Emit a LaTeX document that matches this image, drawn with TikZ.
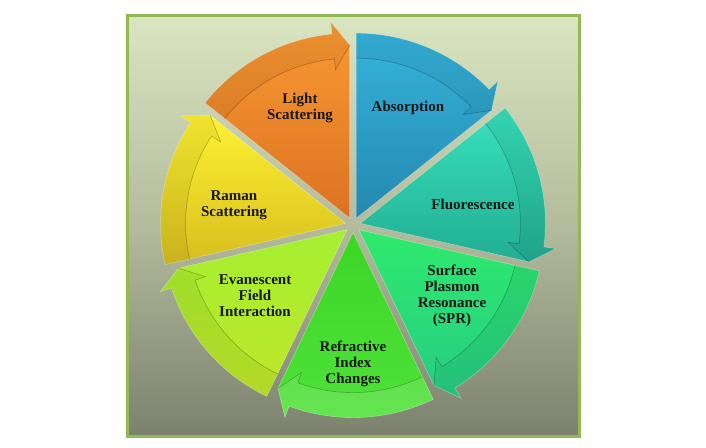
\documentclass[tikz,border=0pt]{standalone}
\usepackage{fontspec}
\setmainfont{Liberation Serif}

\definecolor{framegreen}{HTML}{93B957}
\definecolor{bgtop}{HTML}{DAE5C1}
\definecolor{bgmid}{HTML}{B3BB9C}
\definecolor{bgbot}{HTML}{7C816E}
\definecolor{orangetop}{HTML}{F99A33}
\definecolor{orangebot}{HTML}{DC7222}
\definecolor{bluetop}{HTML}{36B4DC}
\definecolor{bluebot}{HTML}{2488AE}
\definecolor{tealtop}{HTML}{38E2BC}
\definecolor{tealbot}{HTML}{22AD92}
\definecolor{sprtop}{HTML}{2EEA6C}
\definecolor{sprbot}{HTML}{26CC84}
\definecolor{refrtop}{HTML}{3CD626}
\definecolor{refrbot}{HTML}{50E23A}
\definecolor{evantop}{HTML}{A4F030}
\definecolor{evanbot}{HTML}{C0E62A}
\definecolor{ramantop}{HTML}{FFF232}
\definecolor{ramanbot}{HTML}{D6BE1E}

\begin{document}
\begin{tikzpicture}[x=1pt,y=1pt,
  seglabel/.style={draw=none,align=center,font=\fontsize{15}{16}\selectfont\bfseries,text=black!90},
  wedge/.style={draw=white,draw opacity=0.35,line width=0.6pt},
  band/.style={fill=black,fill opacity=0.06},
  lightband/.style={fill=white,fill opacity=0.12},
  bandline/.style={draw=black,draw opacity=0.25,line width=0.6pt}]
  \useasboundingbox (-353,-222) rectangle (353,225);

  %frame
  \shade[top color=bgtop,bottom color=bgbot,middle color=bgmid] (-225,209) rectangle (226,-211);
  \draw[framegreen,line width=3] (-225,209) rectangle (226,-211);

  %light scattering
  \begin{scope}[shift={(115.71:7.6)}]
    \shadedraw[wedge,top color=orangetop,bottom color=orangebot] (0,0) -- (141.43:185) arc[start angle=141.43,end angle=95.5,radius=185] -- (95.5:197) -- (90:173) -- cycle;
    \fill[band] (141.43:185) arc[start angle=141.43,end angle=95.5,radius=185] -- (95.5:197) -- (90:173) -- (95.5:149) -- (95.5:160) arc[start angle=95.5,end angle=141.43,radius=160] -- cycle;
    \draw[bandline] (141.43:160) arc[start angle=141.43,end angle=95.5,radius=160] -- (95.5:149) -- (90:173);
  \end{scope}

  %absorption
  \begin{scope}[shift={(64.29:7.6)}]
    \shadedraw[wedge,top color=bluetop,bottom color=bluebot] (0,0) -- (90:185) arc[start angle=90,end angle=44.07,radius=185] -- (44.07:197) -- (38.57:173) -- cycle;
    \fill[band] (90:185) arc[start angle=90,end angle=44.07,radius=185] -- (44.07:197) -- (38.57:173) -- (44.07:149) -- (44.07:160) arc[start angle=44.07,end angle=90,radius=160] -- cycle;
    \draw[bandline] (90:160) arc[start angle=90,end angle=44.07,radius=160] -- (44.07:149) -- (38.57:173);
  \end{scope}

  %fluorescence
  \begin{scope}[shift={(12.86:7.6)}]
    \shadedraw[wedge,top color=tealtop,bottom color=tealbot] (0,0) -- (38.57:185) arc[start angle=38.57,end angle=-7.36,radius=185] -- (-7.36:197) -- (-12.86:173) -- cycle;
    \fill[band] (38.57:185) arc[start angle=38.57,end angle=-7.36,radius=185] -- (-7.36:197) -- (-12.86:173) -- (-7.36:149) -- (-7.36:160) arc[start angle=-7.36,end angle=38.57,radius=160] -- cycle;
    \draw[bandline] (38.57:160) arc[start angle=38.57,end angle=-7.36,radius=160] -- (-7.36:149) -- (-12.86:173);
  \end{scope}

  %surface plasmon resonance
  \begin{scope}[shift={(-38.57:7.6)}]
    \shadedraw[wedge,top color=sprtop,bottom color=sprbot] (0,0) -- (-12.86:185) arc[start angle=-12.86,end angle=-58.79,radius=185] -- (-58.79:197) -- (-64.29:173) -- cycle;
    \fill[band] (-12.86:185) arc[start angle=-12.86,end angle=-58.79,radius=185] -- (-58.79:197) -- (-64.29:173) -- (-58.79:149) -- (-58.79:160) arc[start angle=-58.79,end angle=-12.86,radius=160] -- cycle;
    \draw[bandline] (-12.86:160) arc[start angle=-12.86,end angle=-58.79,radius=160] -- (-58.79:149) -- (-64.29:173);
  \end{scope}

  %refractive index changes
  \begin{scope}[shift={(-90:7.6)}]
    \shadedraw[wedge,top color=refrtop,bottom color=refrbot] (0,0) -- (-64.29:185) arc[start angle=-64.29,end angle=-110.21,radius=185] -- (-110.21:197) -- (-115.71:173) -- cycle;
    \fill[lightband] (-64.29:185) arc[start angle=-64.29,end angle=-110.21,radius=185] -- (-110.21:197) -- (-115.71:173) -- (-110.21:149) -- (-110.21:160) arc[start angle=-110.21,end angle=-64.29,radius=160] -- cycle;
    \draw[bandline] (-64.29:160) arc[start angle=-64.29,end angle=-110.21,radius=160] -- (-110.21:149) -- (-115.71:173);
  \end{scope}

  %evanescent field
  \begin{scope}[shift={(-141.43:7.6)}]
    \shadedraw[wedge,top color=evantop,bottom color=evanbot] (0,0) -- (-115.71:185) arc[start angle=-115.71,end angle=-161.64,radius=185] -- (-161.64:197) -- (-167.14:173) -- cycle;
    \fill[band] (-115.71:185) arc[start angle=-115.71,end angle=-161.64,radius=185] -- (-161.64:197) -- (-167.14:173) -- (-161.64:149) -- (-161.64:160) arc[start angle=-161.64,end angle=-115.71,radius=160] -- cycle;
    \draw[bandline] (-115.71:160) arc[start angle=-115.71,end angle=-161.64,radius=160] -- (-161.64:149) -- (-167.14:173);
  \end{scope}

  %raman scattering
  \begin{scope}[shift={(167.14:7.6)}]
    \shadedraw[wedge,top color=ramantop,bottom color=ramanbot] (0,0) -- (192.86:185) arc[start angle=192.86,end angle=146.93,radius=185] -- (146.93:197) -- (141.43:173) -- cycle;
    \fill[band] (192.86:185) arc[start angle=192.86,end angle=146.93,radius=185] -- (146.93:197) -- (141.43:173) -- (146.93:149) -- (146.93:160) arc[start angle=146.93,end angle=192.86,radius=160] -- cycle;
    \draw[bandline] (192.86:160) arc[start angle=192.86,end angle=146.93,radius=160] -- (146.93:149) -- (141.43:173);
  \end{scope}

  %labels
  \node[seglabel] (light) at (-53,117) {Light\\Scattering};
  \node[seglabel] (absorption) at (55,117) {Absorption};
  \node[seglabel] (fluorescence) at (120,21) {Fluorescence};
  \node[seglabel] (spr) at (99,-70.5) {Surface\\Plasmon\\Resonance\\(SPR)};
  \node[seglabel] (refractive) at (0,-139) {Refractive\\Index\\Changes};
  \node[seglabel] (evanescent) at (-98,-71) {Evanescent\\Field\\Interaction};
  \node[seglabel] (raman) at (-119,20) {Raman\\Scattering};

\end{tikzpicture}
\end{document}
